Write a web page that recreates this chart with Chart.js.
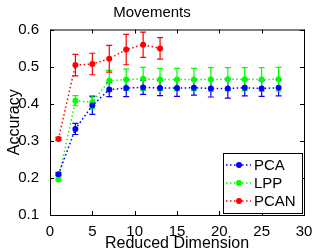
<!DOCTYPE html>
<html>
<head>
<meta charset="utf-8">
<script src="https://cdn.jsdelivr.net/npm/chart.js@4/dist/chart.umd.min.js"></script>
<style>
  html, body { margin: 0; padding: 0; background: #fff; }
</style>
</head>
<body>
<canvas id="chart" width="315" height="250"></canvas>
<script>
// reduced dimensions (x) and mean accuracy / error half-width per method
const dims = [1, 3, 5, 7, 9, 11, 13, 15, 17, 19, 21, 23, 25, 27];
const pcaAcc = [0.21, 0.332, 0.395, 0.438, 0.442, 0.444, 0.442, 0.442, 0.443, 0.441, 0.441, 0.443, 0.441, 0.443];
const pcaErr = [0.004, 0.015, 0.024, 0.019, 0.023, 0.019, 0.02, 0.022, 0.02, 0.023, 0.026, 0.022, 0.021, 0.022];
const lppAcc = [0.196, 0.408, 0.404, 0.462, 0.465, 0.467, 0.465, 0.465, 0.465, 0.465, 0.466, 0.466, 0.465, 0.466];
const lppErr = [0.004, 0.0135, 0.018, 0.028, 0.029, 0.031, 0.03, 0.03, 0.03, 0.032, 0.031, 0.031, 0.032, 0.032];
const pcanDims = [1, 3, 5, 7, 9, 11, 13];
const pcanAcc = [0.305, 0.504, 0.507, 0.521, 0.546, 0.559, 0.549];
const pcanErr = [0.004, 0.029, 0.029, 0.036, 0.041, 0.034, 0.029];

const xTicks = [0, 5, 10, 15, 20, 25, 30];
const yTicks = [0.1, 0.2, 0.3, 0.4, 0.5, 0.6];

const FONT = 'Liberation Sans, Arial, Helvetica, sans-serif';

function series(label, xs, ys, errs, color) {
  return {
    label: label,
    data: xs.map((x, i) => ({ x: x, y: ys[i], err: errs[i] })),
    borderColor: color,
    backgroundColor: color,
    borderWidth: 1.5,
    borderDash: [1.5, 2.5],
    pointRadius: 3,
    pointHoverRadius: 3,
    pointBorderWidth: 0,
    fill: false,
    tension: 0
  };
}

const errorBars = {
  id: 'errorBars',
  beforeDatasetsDraw(chart) {
    const ctx = chart.ctx;
    const xs = chart.scales.x, ys = chart.scales.y;
    chart.data.datasets.forEach(ds => {
      ctx.save();
      ctx.strokeStyle = ds.borderColor;
      ctx.lineWidth = 1.2;
      ds.data.forEach(p => {
        const px = xs.getPixelForValue(p.x);
        const top = ys.getPixelForValue(p.y + p.err);
        const bot = ys.getPixelForValue(p.y - p.err);
        ctx.beginPath();
        ctx.moveTo(px, top); ctx.lineTo(px, bot);
        ctx.moveTo(px - 3, top); ctx.lineTo(px + 3, top);
        ctx.moveTo(px - 3, bot); ctx.lineTo(px + 3, bot);
        ctx.stroke();
      });
      ctx.restore();
    });
  }
};

const frame = {
  id: 'frame',
  afterDraw(chart) {
    const ctx = chart.ctx;
    const a = chart.chartArea;
    const xs = chart.scales.x, ys = chart.scales.y;
    ctx.save();
    ctx.strokeStyle = '#000';
    ctx.lineWidth = 1;
    ctx.strokeRect(a.left + 0.5, a.top + 0.5, a.right - a.left, a.bottom - a.top);
    ctx.beginPath();
    xTicks.forEach(v => {
      const px = Math.round(xs.getPixelForValue(v)) + 0.5;
      ctx.moveTo(px, a.bottom); ctx.lineTo(px, a.bottom - 4);
      ctx.moveTo(px, a.top); ctx.lineTo(px, a.top + 4);
    });
    yTicks.forEach(v => {
      const py = Math.round(ys.getPixelForValue(v)) + 0.5;
      ctx.moveTo(a.left, py); ctx.lineTo(a.left + 4, py);
      ctx.moveTo(a.right, py); ctx.lineTo(a.right - 4, py);
    });
    ctx.stroke();

    // legend box in lower right corner
    const w = 79, h = 60;
    const lx = a.right - w - 2, ly = a.bottom - h - 2;
    ctx.fillStyle = '#fff';
    ctx.fillRect(lx, ly, w, h);
    ctx.strokeRect(lx + 0.5, ly + 0.5, w, h);
    ctx.font = '15px ' + FONT;
    ctx.textBaseline = 'middle';
    chart.data.datasets.forEach((ds, i) => {
      const cy = ly + 12 + i * 18;
      ctx.strokeStyle = ds.borderColor;
      ctx.lineWidth = 1.5;
      ctx.setLineDash([1.5, 2.5]);
      ctx.beginPath();
      ctx.moveTo(lx + 3, cy); ctx.lineTo(lx + 28, cy);
      ctx.stroke();
      ctx.setLineDash([]);
      ctx.fillStyle = ds.borderColor;
      ctx.beginPath();
      ctx.arc(lx + 16, cy, 3, 0, Math.PI * 2);
      ctx.fill();
      ctx.fillStyle = '#000';
      ctx.fillText(ds.label, lx + 31, cy + 1);
    });
    ctx.restore();
  }
};

new Chart(document.getElementById('chart'), {
  type: 'line',
  data: {
    datasets: [
      series('PCA', dims, pcaAcc, pcaErr, '#0000ff'),
      series('LPP', dims, lppAcc, lppErr, '#00ff00'),
      series('PCAN', pcanDims, pcanAcc, pcanErr, '#ff0000')
    ]
  },
  options: {
    responsive: false,
    animation: false,
    layout: { padding: { right: 11, left: 0, top: 0, bottom: 0 } },
    plugins: {
      legend: { display: false },
      tooltip: { enabled: false },
      title: {
        display: true,
        text: 'Movements',
        color: '#000',
        font: { family: FONT, size: 15, weight: 'normal', lineHeight: 1.2 },
        padding: { top: 4, bottom: 7.5 }
      }
    },
    scales: {
      x: {
        type: 'linear',
        min: 0, max: 30,
        grid: { display: false },
        border: { display: false },
        afterFit(scale) { scale.height = 35; },
        afterBuildTicks(scale) { scale.ticks = xTicks.map(v => ({ value: v })); },
        ticks: { color: '#000', padding: 1, maxRotation: 0, font: { family: FONT, size: 15, lineHeight: 1 } },
        title: {
          display: true, text: 'Reduced Dimension', color: '#000',
          font: { family: FONT, size: 16, lineHeight: 0.85 }, padding: { top: 0, bottom: 0 }
        }
      },
      y: {
        type: 'linear',
        min: 0.1, max: 0.6,
        grid: { display: false },
        border: { display: false },
        afterFit(scale) { scale.width = 50; },
        afterBuildTicks(scale) { scale.ticks = yTicks.map(v => ({ value: v })); },
        ticks: {
          color: '#000', padding: 3, font: { family: FONT, size: 15 },
          callback: v => v.toFixed(1)
        },
        title: {
          display: true, text: 'Accuracy', color: '#000',
          font: { family: FONT, size: 16, lineHeight: 1 }, padding: { top: 7, bottom: 0 }
        }
      }
    }
  },
  plugins: [errorBars, frame]
});
</script>
</body>
</html>
